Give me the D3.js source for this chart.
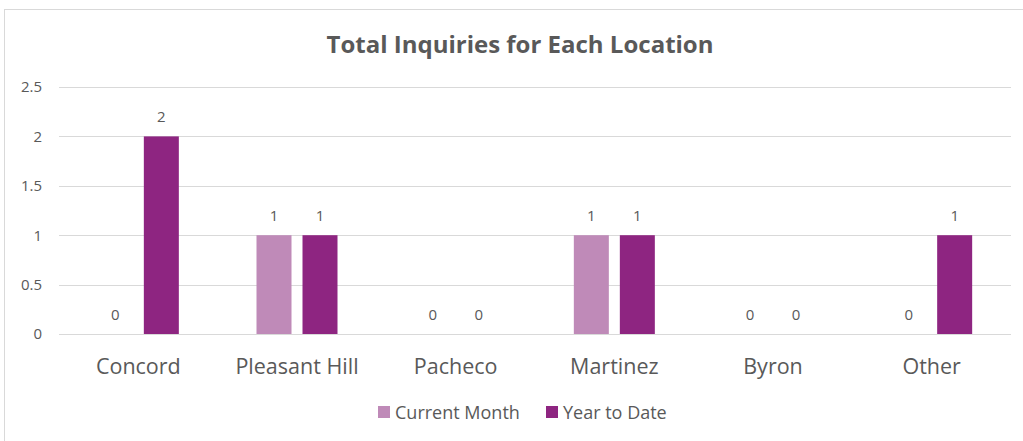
<!DOCTYPE html>
<html><head><meta charset="utf-8">
<script src="https://cdn.jsdelivr.net/npm/d3@7"></script>
<style>body{margin:0;background:#fff}svg{display:block}text{font-family:"Open Sans",sans-serif;fill:#595959}</style>
</head><body><svg id="c" width="1023" height="441"></svg>
<script>
const categories = ["Concord","Pleasant Hill","Pacheco","Martinez","Byron","Other"];
const seriesNames = ["Current Month","Year to Date"];
const currentMonth = [0,1,0,1,0,0];
const yearToDate = [2,1,0,1,0,1];
const yTicks = [0,0.5,1,1.5,2,2.5];
const colors = ["#BF8AB8","#8E2581"];

const svg = d3.select("#c");
svg.append("rect").attr("x",4.5).attr("y",9.5).attr("width",1030).attr("height",440)
  .attr("fill","#fff").attr("stroke","#d9d9d9").attr("stroke-width",1);

const m = {l:59, r:1011, t:87, b:334};
const x = d3.scaleBand().domain(categories).range([m.l,m.r]).paddingInner(0).paddingOuter(0);
const barW = 35, gap = 11;
const y = d3.scaleLinear().domain([0,2.5]).range([m.b,m.t]);

svg.append("g").selectAll("line").data(yTicks).join("line")
  .attr("x1",m.l).attr("x2",m.r).attr("y1",d=>Math.round(y(d))+0.5).attr("y2",d=>Math.round(y(d))+0.5)
  .attr("stroke","#d9d9d9").attr("stroke-width",1);

const yAxis = d3.axisLeft(y).tickValues(yTicks).tickSize(0).tickPadding(0).tickFormat(d3.format("~g"));
const ya = svg.append("g").attr("transform",`translate(${42},0)`).call(yAxis);
ya.select(".domain").remove();
ya.selectAll("text").style("font-size","15px").attr("fill","#595959");

const series = [currentMonth, yearToDate];
series.forEach((vals,si)=>{
  const off = si===0 ? -(gap/2+barW) : gap/2;
  const data = categories.map((c,i)=>({c,v:vals[i]}));
  svg.selectAll("rect.s"+si).data(data).join("rect").attr("class","s"+si)
    .attr("x",d=>x(d.c)+x.bandwidth()/2+off)
    .attr("width",barW)
    .attr("y",d=>y(d.v)).attr("height",d=>y(0)-y(d.v))
    .attr("fill",colors[si]);
  svg.selectAll("text.l"+si).data(data).join("text").attr("class","l"+si)
    .attr("x",d=>x(d.c)+x.bandwidth()/2+off+barW/2)
    .attr("y",d=>y(d.v)-14)
    .attr("text-anchor","middle").style("font-size","15px")
    .text(d=>d.v);
});

const xa = svg.append("g").attr("transform",`translate(0,${m.b})`)
  .call(d3.axisBottom(x).tickSize(0).tickPadding(0));
xa.select(".domain").remove();
xa.selectAll("text").attr("dy",null).attr("y",40).style("font-size","21.5px").attr("fill","#595959");

svg.append("text").attr("x",520).attr("y",53).attr("text-anchor","middle")
  .style("font-size","24px").style("font-weight","bold").text("Total Inquiries for Each Location");

const leg = [{n:seriesNames[0],x:378},{n:seriesNames[1],x:546}];
leg.forEach((d,i)=>{
  svg.append("rect").attr("x",d.x).attr("y",406).attr("width",12).attr("height",12).attr("fill",colors[i]);
  svg.append("text").attr("x",d.x+17).attr("y",419).style("font-size","18px").text(d.n);
});
</script></body></html>
